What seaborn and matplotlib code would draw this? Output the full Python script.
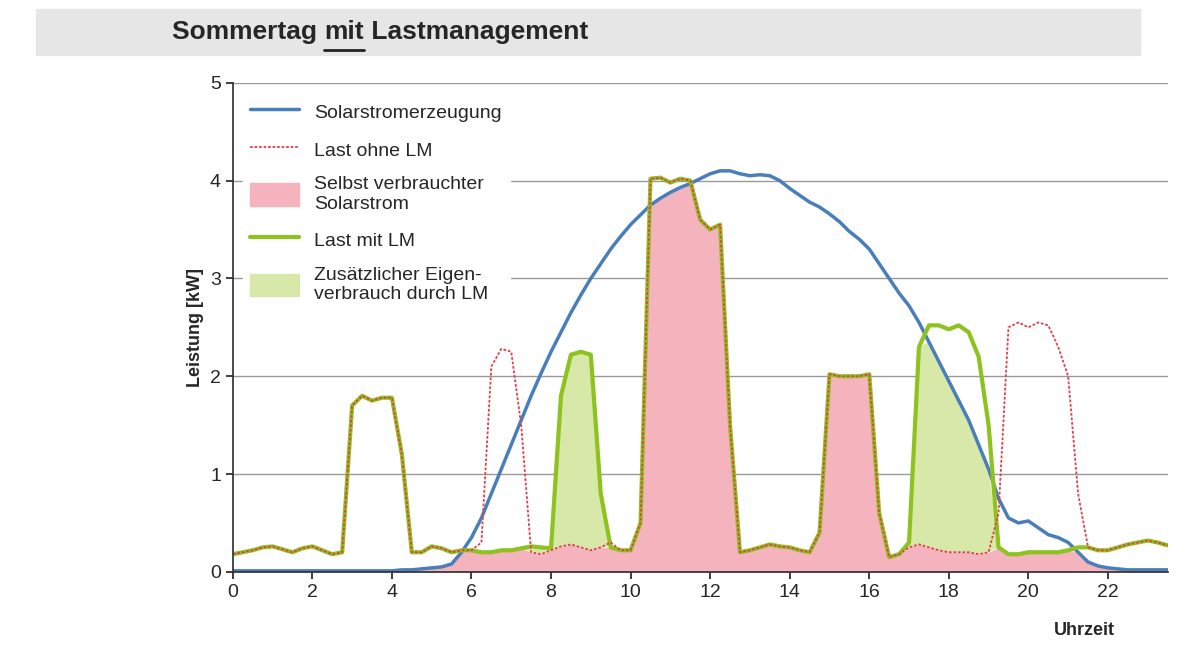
import numpy as np
import matplotlib
matplotlib.use("Agg")
import matplotlib.pyplot as plt
import seaborn as sns
from matplotlib.patches import Rectangle, Patch
from matplotlib.lines import Line2D

sns.set_theme(style="white")
plt.rcParams['font.family'] = ['Liberation Sans', 'DejaVu Sans']

hours = [i * 0.25 for i in range(95)]
solar = [0.01]*17 + [0.02, 0.02, 0.03, 0.04,
         0.05, 0.08, 0.2, 0.35, 0.55, 0.8, 1.05, 1.3, 1.55, 1.8, 2.03, 2.25, 2.45, 2.65, 2.83, 3.0,
         3.15, 3.3, 3.43, 3.55, 3.65, 3.75, 3.82, 3.88, 3.93, 3.97, 4.02, 4.07, 4.1, 4.1, 4.07, 4.05,
         4.06, 4.05, 4.0, 3.92, 3.85, 3.78, 3.73, 3.66, 3.58, 3.48, 3.4, 3.3, 3.15, 3.0, 2.85, 2.72,
         2.55, 2.35, 2.15, 1.95, 1.75, 1.55, 1.3, 1.05, 0.75, 0.55, 0.5, 0.52, 0.45, 0.38, 0.35, 0.3,
         0.2, 0.1, 0.06, 0.04, 0.03, 0.02, 0.02, 0.02, 0.02, 0.02]
last_ohne = [0.18, 0.2, 0.22, 0.25, 0.26, 0.23, 0.2, 0.24, 0.26, 0.22, 0.18, 0.2, 1.7, 1.8, 1.75, 1.78,
             1.78, 1.2, 0.2, 0.2, 0.26, 0.24, 0.2, 0.22, 0.22, 0.3, 2.1, 2.28, 2.25, 1.5, 0.2, 0.18,
             0.22, 0.26, 0.28, 0.25, 0.22, 0.25, 0.3, 0.22, 0.22, 0.5, 4.02, 4.03, 3.98, 4.02, 4.0, 3.6,
             3.5, 3.55, 1.5, 0.2, 0.22, 0.25, 0.28, 0.26, 0.25, 0.22, 0.2, 0.4, 2.02, 2.0, 2.0, 2.0,
             2.02, 0.6, 0.15, 0.18, 0.25, 0.28, 0.25, 0.22, 0.2, 0.2, 0.2, 0.18, 0.2, 0.6, 2.5, 2.55,
             2.5, 2.55, 2.52, 2.3, 2.0, 0.8, 0.25, 0.22, 0.22, 0.25, 0.28, 0.3, 0.32, 0.3, 0.27]
last_mit = [0.18, 0.2, 0.22, 0.25, 0.26, 0.23, 0.2, 0.24, 0.26, 0.22, 0.18, 0.2, 1.7, 1.8, 1.75, 1.78,
            1.78, 1.2, 0.2, 0.2, 0.26, 0.24, 0.2, 0.22, 0.22, 0.2, 0.2, 0.22, 0.22, 0.24, 0.26, 0.25,
            0.24, 1.8, 2.22, 2.25, 2.22, 0.8, 0.25, 0.22, 0.22, 0.5, 4.02, 4.03, 3.98, 4.02, 4.0, 3.6,
            3.5, 3.55, 1.5, 0.2, 0.22, 0.25, 0.28, 0.26, 0.25, 0.22, 0.2, 0.4, 2.02, 2.0, 2.0, 2.0,
            2.02, 0.6, 0.15, 0.18, 0.3, 2.3, 2.52, 2.52, 2.48, 2.52, 2.45, 2.2, 1.5, 0.25, 0.18, 0.18,
            0.2, 0.2, 0.2, 0.2, 0.22, 0.25, 0.25, 0.22, 0.22, 0.25, 0.28, 0.3, 0.32, 0.3, 0.27]
assert len(solar) == len(hours) == len(last_ohne) == len(last_mit)

t = np.array(hours); s = np.array(solar); lo = np.array(last_ohne); lm = np.array(last_mit)
pink_top = np.minimum(s, np.minimum(lo, lm))
green_top = np.maximum(np.minimum(s, lm), pink_top)

fig = plt.figure(figsize=(12, 6.68), dpi=100)
fig.patches.append(Rectangle((0.03, 0.918), 0.92, 0.068, transform=fig.transFigure,
                             color='#e6e6e6', zorder=0))
fig.canvas.draw()
r = fig.canvas.get_renderer()
x0 = 0.143
parts = ["Sommertag ", "mit", " Lastmanagement"]
for i, p in enumerate(parts):
    txt = fig.text(x0, 0.952, p.replace(" ", "\u00a0"), fontsize=19, fontweight='bold', va='center')
    bb = txt.get_window_extent(renderer=r).transformed(fig.transFigure.inverted())
    if p == "mit":
        fig.add_artist(Line2D([bb.x0, bb.x1], [0.925, 0.925], color='#222222', lw=2,
                              transform=fig.transFigure))
    x0 = bb.x1

ax = fig.add_axes([0.194, 0.144, 0.779, 0.732])
ax.fill_between(t, 0, pink_top, color='#f4b3bd', lw=0)
ax.fill_between(t, pink_top, green_top, where=green_top > pink_top + 1e-9,
                color='#d7e8a8', lw=0, interpolate=True)
sns.lineplot(x=t, y=s, ax=ax, color='#4a7ebb', lw=2.5)
sns.lineplot(x=t, y=lm, ax=ax, color='#8dc21f', lw=3)
sns.lineplot(x=t, y=lo, ax=ax, color='#e0404a', lw=1.3, linestyle=(0, (1.5, 1)))

ax.set_xlim(0, 23.5); ax.set_ylim(0, 5)
ax.set_xticks(range(0, 23, 2)); ax.set_yticks(range(0, 6))
ax.tick_params(labelsize=14, length=5, direction='out', bottom=True, left=True)
ax.yaxis.grid(True, color='#999999', lw=1)
for sp in ['top', 'right']:
    ax.spines[sp].set_visible(False)
for sp in ['left', 'bottom']:
    ax.spines[sp].set_color('#333333')
ax.set_ylabel("Leistung [kW]", fontsize=13, fontweight='bold')
ax.set_xlabel("")
fig.text(0.878, 0.05, "Uhrzeit", fontsize=13, fontweight='bold')

handles = [Line2D([], [], color='#4a7ebb', lw=2.5),
           Line2D([], [], color='#e0404a', lw=1.3, linestyle=(0, (1.5, 1))),
           Patch(color='#f4b3bd'),
           Line2D([], [], color='#8dc21f', lw=3),
           Patch(color='#d7e8a8')]
labels = ["Solarstromerzeugung", "Last ohne LM", "Selbst verbrauchter\nSolarstrom",
          "Last mit LM", "Zusätzlicher Eigen-\nverbrauch durch LM"]
ax.legend(handles, labels, loc='upper left', bbox_to_anchor=(0.0, 1.0), frameon=True,
          fontsize=14, labelspacing=0.8, handlelength=2.5, handleheight=1.4, facecolor='white',
          edgecolor='white', framealpha=1)
fig.savefig("out.png", dpi=100)
